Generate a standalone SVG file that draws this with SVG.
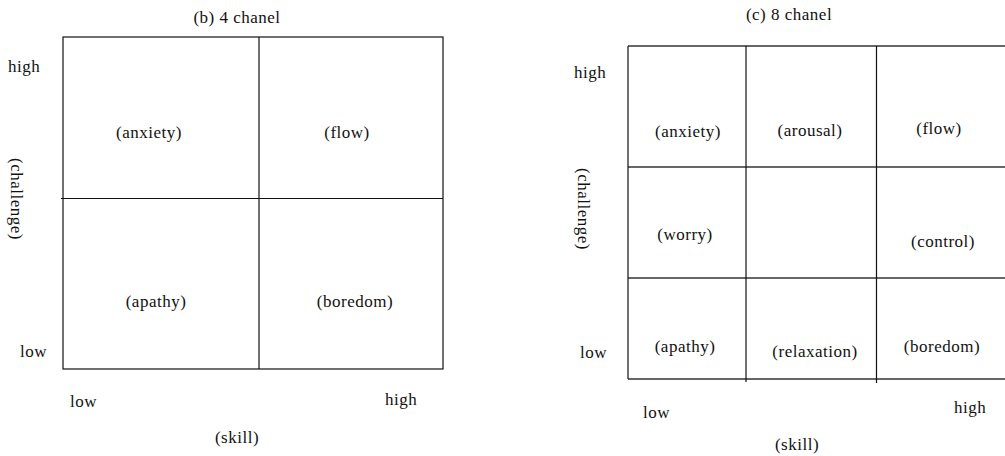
<svg xmlns="http://www.w3.org/2000/svg" width="1005" height="456" viewBox="0 0 1005 456">
<style>
text{font-family:'Liberation Serif','DejaVu Serif',serif;font-size:17px;fill:#111;letter-spacing:0.5px}
.m{text-anchor:middle}
.ln{stroke:#111;stroke-width:1.2;fill:none}
.g{stroke:#333;stroke-width:1.4;fill:none}
</style>
<rect width="1005" height="456" fill="#fff"/>
<g id="panel-b" font-family="Liberation Serif, serif">
<text class="m" x="237" y="23">(b) 4 chanel</text>
<g id="b-grid">
<rect class="ln" x="63" y="37" width="380" height="332"/>
<line class="ln" x1="259" y1="37" x2="259" y2="369"/>
<line class="ln" x1="61" y1="198.5" x2="443" y2="198.5"/>
</g>
<text x="8" y="72">high</text>
<text x="20" y="357">low</text>
<text class="m" transform="translate(11,199) rotate(90)">(challenge)</text>
<text x="70" y="407">low</text>
<text x="385" y="405">high</text>
<text class="m" x="237" y="443">(skill)</text>
<g id="b-anxiety"><text class="m" x="149" y="138">(anxiety)</text></g>
<g id="b-flow"><text class="m" x="347" y="138">(flow)</text></g>
<g id="b-apathy"><text class="m" x="156" y="307">(apathy)</text></g>
<g id="b-boredom"><text class="m" x="355" y="307">(boredom)</text></g>
</g>
<g id="panel-c" font-family="Liberation Serif, serif">
<text class="m" x="789" y="20">(c) 8 chanel</text>
<g id="c-grid">
<line class="g" x1="628" y1="46" x2="1005" y2="46"/>
<line class="g" x1="628" y1="167" x2="1005" y2="167"/>
<line class="g" x1="628" y1="278" x2="1005" y2="278"/>
<line class="g" x1="628" y1="379" x2="1005" y2="379"/>
<line class="ln" x1="628" y1="46" x2="628" y2="379"/>
<line class="ln" x1="746" y1="46" x2="746" y2="382"/>
<line class="ln" x1="876.5" y1="46" x2="876.5" y2="383"/>
</g>
<text x="574" y="78">high</text>
<text x="580" y="358">low</text>
<text class="m" transform="translate(578,209) rotate(90)">(challenge)</text>
<text x="643" y="418">low</text>
<text x="954" y="413">high</text>
<text class="m" x="797" y="450">(skill)</text>
<g id="c-anxiety"><text class="m" x="688" y="137">(anxiety)</text></g>
<g id="c-arousal"><text class="m" x="810" y="136">(arousal)</text></g>
<g id="c-flow"><text class="m" x="939" y="134">(flow)</text></g>
<g id="c-worry"><text class="m" x="685" y="240">(worry)</text></g>
<g id="c-control"><text class="m" x="943" y="247">(control)</text></g>
<g id="c-apathy"><text class="m" x="685" y="352">(apathy)</text></g>
<g id="c-relaxation"><text class="m" x="815" y="357">(relaxation)</text></g>
<g id="c-boredom"><text class="m" x="942" y="352">(boredom)</text></g>
</g>
</svg>
